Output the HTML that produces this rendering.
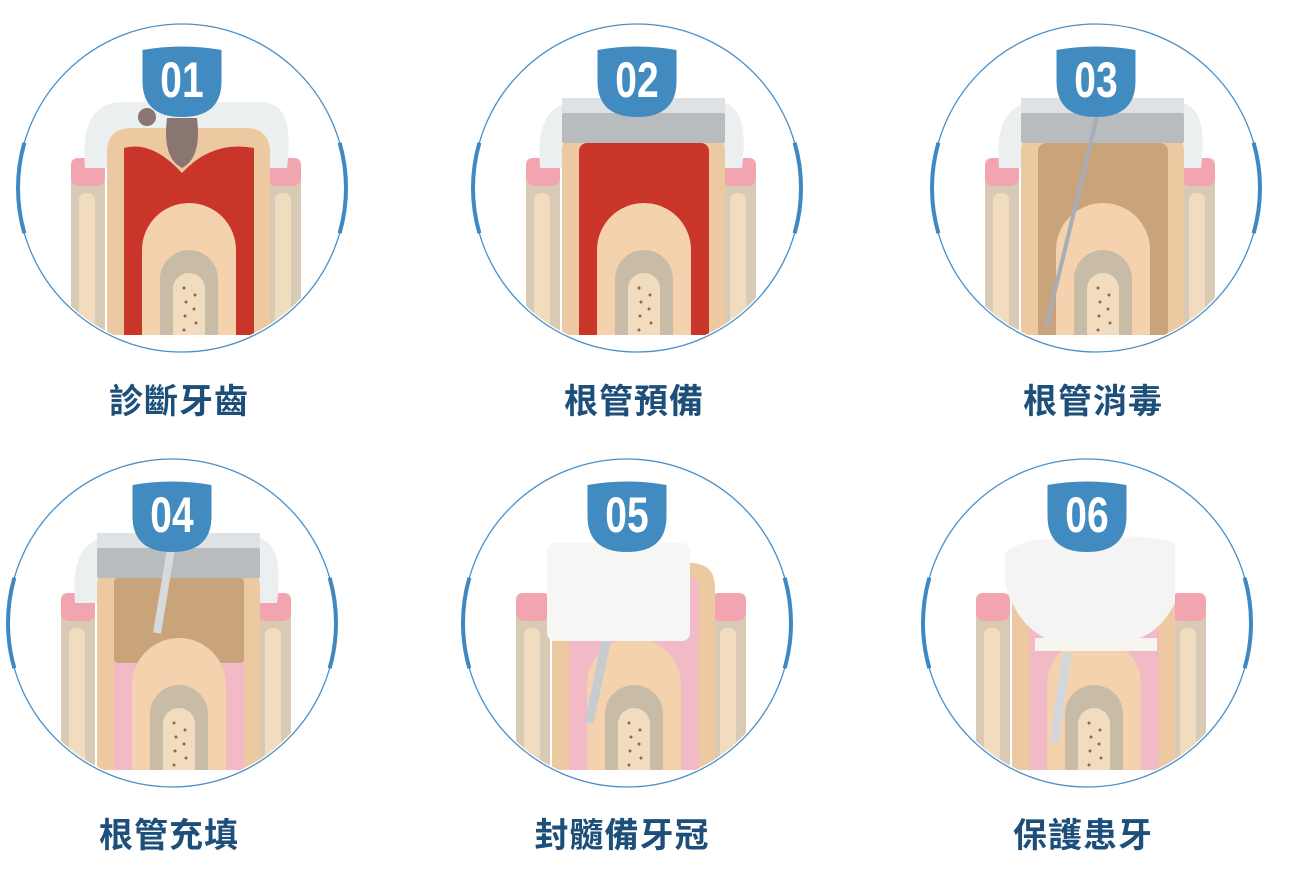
<!DOCTYPE html>
<html><head><meta charset="utf-8">
<style>
html,body{margin:0;padding:0;background:#fff;}
body{width:1292px;height:873px;overflow:hidden;position:relative;}
.lbl{position:absolute;transform:translateX(-50%);font-family:"Liberation Sans","Noto Sans CJK TC",sans-serif;font-weight:bold;font-size:34px;color:#1d4f7a;white-space:nowrap;letter-spacing:1px;}
</style></head><body>
<svg id="s" width="1292" height="873" xmlns="http://www.w3.org/2000/svg" style="position:absolute;left:0;top:0"></svg>
<div class="lbl" style="left:179px;top:374px">診斷牙齒</div>
<div class="lbl" style="left:634px;top:374px">根管預備</div>
<div class="lbl" style="left:1093px;top:374px">根管消毒</div>
<div class="lbl" style="left:169px;top:808px">根管充填</div>
<div class="lbl" style="left:622px;top:808px">封髓備牙冠</div>
<div class="lbl" style="left:1083px;top:808px">保護患牙</div>
<script>
var P=[[182,188,1],[637,188,2],[1096,188,3],[172,623,4],[627,623,5],[1087,623,6]];
var out='';
P.forEach(function(p,i){
 var cx=p[0],cy=p[1],k=p[2],id='c'+k;
 var g='';
 function R(x1,y1,x2,y2,f,rx){return '<rect x="'+(cx+x1)+'" y="'+(cy+y1)+'" width="'+(x2-x1)+'" height="'+(y2-y1)+'" fill="'+f+'" rx="'+(rx||0)+'"/>';}
 function A(x1,x2,top,bot,f){var w=x2-x1;return '<path d="M'+(cx+x1)+','+(cy+bot)+' L'+(cx+x1)+','+(cy+top+w/2)+' A'+(w/2)+','+(w/2)+' 0 0 1 '+(cx+x2)+','+(cy+top+w/2)+' L'+(cx+x2)+','+(cy+bot)+' Z" fill="'+f+'"/>';}
 g+=R(-111,-30,-77,160,'#d8cab5',6)+R(-111,-30,-77,-2,'#f2a5b0',8)+R(-103,5,-87,160,'#f1dcc0',7);
 g+=R(85,-30,119,160,'#d8cab5',6)+R(85,-30,119,-2,'#f2a5b0',8)+R(93,5,109,160,'#f1dcc0',7);
 if(k<5) g+='<path d="M'+(cx-97)+','+(cy-20)+' C'+(cx-100)+','+(cy-60)+' '+(cx-92)+','+(cy-85)+' '+(cx-60)+','+(cy-86)+' L'+(cx+80)+','+(cy-86)+' C'+(cx+105)+','+(cy-85)+' '+(cx+110)+','+(cy-60)+' '+(cx+105)+','+(cy-20)+' Z" fill="#eceff0"/>';
 g+='<path d="M'+(cx-75)+','+(cy+160)+' L'+(cx-75)+','+(cy-35)+' Q'+(cx-75)+','+(cy-60)+' '+(cx-50)+','+(cy-60)+' L'+(cx+63)+','+(cy-60)+' Q'+(cx+88)+','+(cy-60)+' '+(cx+88)+','+(cy-35)+' L'+(cx+88)+','+(cy+160)+' Z" fill="#ecc9a1"/>';
 var pulp=(k<3)?'#c93528':(k==3?'#c9a37a':'#f2b9c6');
 if(k==1){g+='<path d="M'+(cx-58)+','+(cy+160)+' L'+(cx-58)+','+(cy-40)+' Q'+(cx-30)+','+(cy-48)+' '+(cx)+','+(cy-15)+' Q'+(cx+30)+','+(cy-48)+' '+(cx+72)+','+(cy-40)+' L'+(cx+72)+','+(cy+160)+' Z" fill="'+pulp+'"/>';}
 else g+=R(-58,-45,72,160,pulp,8);
 if(k==4) g+=R(-58,-45,72,40,'#c9a37a',4);
 if(k>=2&&k<=4) g+=R(-75,-75,88,-45,'#b9bcbf',2)+R(-75,-90,88,-75,'#dfe2e4',0);
 g+=A(-40,54,15,160,'#f3d2ad')+A(-22,36,62,160,'#c9bca6')+A(-9,23,85,160,'#f2dcc0');
 for(var d=0;d<8;d++) g+='<circle cx="'+(cx+(d%2?12:2)+(d%3))+'" cy="'+(cy+100+d*7)+'" r="1.5" fill="#8a6a4a"/>';
 if(k==1) g+='<path d="M'+(cx-15)+','+(cy-70)+' Q'+(cx-20)+','+(cy-30)+' '+(cx)+','+(cy-20)+' Q'+(cx+20)+','+(cy-30)+' '+(cx+15)+','+(cy-70)+' Z" fill="#8a7670"/><circle cx="'+(cx-35)+'" cy="'+(cy-71)+'" r="9" fill="#8a7670"/>';
 if(k==3) g+='<line x1="'+(cx+3)+'" y1="'+(cy-80)+'" x2="'+(cx-50)+'" y2="'+(cy+140)+'" stroke="#a7aeb5" stroke-width="4"/>';
 if(k==4) g+='<line x1="'+(cx)+'" y1="'+(cy-80)+'" x2="'+(cx-15)+'" y2="'+(cy+10)+'" stroke="#d6dadd" stroke-width="8"/>';
 if(k==5){g+='<line x1="'+(cx-20)+'" y1="'+(cy+15)+'" x2="'+(cx-38)+'" y2="'+(cy+100)+'" stroke="#c8ccd0" stroke-width="9"/>'+R(-80,-80,63,18,'#f6f6f4',8);}
 if(k==6){g+='<line x1="'+(cx-20)+'" y1="'+(cy+30)+'" x2="'+(cx-33)+'" y2="'+(cy+120)+'" stroke="#d3d7db" stroke-width="9"/>'+R(-52,15,70,28,'#f7f5ee',0)+'<path d="M'+(cx-82)+','+(cy-70)+' Q'+(cx-60)+','+(cy-90)+' '+(cx)+','+(cy-82)+' Q'+(cx+50)+','+(cy-92)+' '+(cx+88)+','+(cy-80)+' L'+(cx+88)+','+(cy-20)+' Q'+(cx+70)+','+(cy+15)+' '+(cx+40)+','+(cy+18)+' L'+(cx-35)+','+(cy+18)+' Q'+(cx-70)+','+(cy+5)+' '+(cx-82)+','+(cy-40)+' Z" fill="#f4f4f4"/>';}
 out+='<clipPath id="'+id+'"><circle cx="'+cx+'" cy="'+cy+'" r="162"/></clipPath><clipPath id="r'+id+'"><rect x="'+(cx-170)+'" y="'+(cy-170)+'" width="340" height="317"/></clipPath><g clip-path="url(#'+id+')"><g clip-path="url(#r'+id+')">'+g+'</g></g>';
 out+='<circle cx="'+cx+'" cy="'+cy+'" r="164" fill="none" stroke="#4a90c8" stroke-width="1.3"/>';
 var r=164,a=0.28;
 out+='<path d="M'+(cx-r*Math.cos(a))+','+(cy-r*Math.sin(a))+' A'+r+','+r+' 0 0 0 '+(cx-r*Math.cos(a))+','+(cy+r*Math.sin(a))+'" fill="none" stroke="#3f88c2" stroke-width="4"/>';
 out+='<path d="M'+(cx+r*Math.cos(a))+','+(cy-r*Math.sin(a))+' A'+r+','+r+' 0 0 1 '+(cx+r*Math.cos(a))+','+(cy+r*Math.sin(a))+'" fill="none" stroke="#3f88c2" stroke-width="4"/>';
 var bx=cx-39.5,by=cy-143;
 out+='<path d="M'+bx+','+(by+5)+' Q'+(bx+39.5)+','+(by-2)+' '+(bx+79)+','+(by+5)+' L'+(bx+79)+','+(by+36)+' Q'+(bx+79)+','+(by+72)+' '+(bx+39.5)+','+(by+72)+' Q'+bx+','+(by+72)+' '+bx+','+(by+36)+' Z" fill="#428bc1"/>';
 out+='<text x="'+cx+'" y="'+(by+52)+'" text-anchor="middle" font-family="Liberation Sans Narrow, Liberation Sans, sans-serif" font-weight="bold" font-size="50" fill="#fff" transform="translate('+cx+','+(by+52)+') scale(0.78,1) translate('+(-cx)+','+(-(by+52))+')">0'+k+'</text>';
});
document.getElementById('s').innerHTML=out;
</script>
</body></html>
